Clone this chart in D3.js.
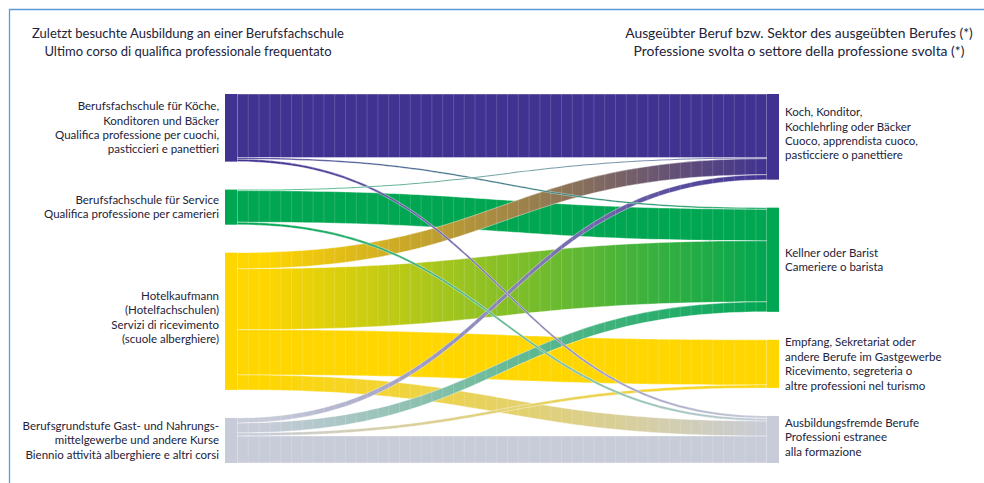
<!DOCTYPE html>
<html>
<head>
<meta charset="utf-8">
<script src="https://cdnjs.cloudflare.com/ajax/libs/d3/7.8.5/d3.min.js"></script>
<style>
  body { margin: 0; background: #fff; }
  text { font-family: Lato, "Noto Sans", sans-serif; fill: #23233a; }
</style>
</head>
<body>
<div id="chart"></div>
<script>
// left column: last school attended, right column: current job
const sourceLabels = [
  ['Berufsfachschule für Köche,', 'Konditoren und Bäcker', 'Qualifica professione per cuochi,', 'pasticcieri e panettieri'],
  ['Berufsfachschule für Service', 'Qualifica professione per camerieri'],
  ['Hotelkaufmann', '(Hotelfachschulen)', 'Servizi di ricevimento', '(scuole alberghiere)'],
  ['Berufsgrundstufe Gast- und Nahrungs-', 'mittelgewerbe und andere Kurse', 'Biennio attività alberghiere e altri corsi']
];
const targetLabels = [
  ['Koch, Konditor,', 'Kochlehrling oder Bäcker', 'Cuoco, apprendista cuoco,', 'pasticciere o panettiere'],
  ['Kellner oder Barist', 'Cameriere o barista'],
  ['Empfang, Sekretariat oder', 'andere Berufe im Gastgewerbe', 'Ricevimento, segreteria o', 'altre professioni nel turismo'],
  ['Ausbildungsfremde Berufe', 'Professioni estranee', 'alla formazione']
];
const leftTitle = ['Zuletzt besuchte Ausbildung an einer Berufsfachschule', 'Ultimo corso di qualifica professionale frequentato'];
const rightTitle = ['Ausgeübter Beruf bzw. Sektor des ausgeübten Berufes (*)', 'Professione svolta o settore della professione svolta (*)'];

// flows[source][target]
const fromKoeche  = [63.5, 1.5, 0, 2.5];
const fromService = [1, 31.5, 0, 2.5];
const fromHotel   = [16, 61, 45, 15];
const fromGrund   = [5, 10, 3, 27];
const flows = [fromKoeche, fromService, fromHotel, fromGrund];

const colors = ['#403291', '#00a651', '#ffd600', '#c8ccd9'];
const srcShift = [0, 0, -4, 0];
const tgtShift = [-3, 0, 0, -2];

const W = 984, H = 483;
const yTop = 94, yBottom = 463, pad = 28, nodeW = 12;
const xLeft = 225, xRight = 767;

const svg = d3.select('#chart').append('svg')
  .attr('width', W).attr('height', H);

// frame
svg.append('path')
  .attr('d', 'M9.5,' + H + 'V9.5H' + W)
  .attr('fill', 'none')
  .attr('stroke', '#5b9bd5')
  .attr('stroke-width', 1.3);

const total = d3.sum(flows.flat());
const k = d3.scaleLinear().domain([0, total]).range([0, (yBottom - yTop) - pad * 3]);

const srcTotals = flows.map(r => d3.sum(r));
const tgtTotals = targetLabels.map((_, j) => d3.sum(flows, r => r[j]));

function stack(totals) {
  let y = yTop;
  return totals.map(v => { const n = { y0: y, y1: y + k(v) }; y = n.y1 + pad; return n; });
}
const srcNodes = stack(srcTotals);
const tgtNodes = stack(tgtTotals);

// link geometry
const links = [];
const srcOff = srcNodes.map(n => n.y0);
const tgtOff = tgtNodes.map(n => n.y0);
flows.forEach((row, i) => row.forEach((v, j) => {
  if (!v) return;
  links.push({ s: i, t: j, v: v, sy0: srcOff[i], ty0: 0 });
  srcOff[i] += k(v);
}));
// target side ordered by source index
d3.range(4).forEach(j => {
  links.filter(l => l.t === j).sort((a, b) => a.s - b.s).forEach(l => {
    l.ty0 = tgtOff[j];
    tgtOff[j] += k(l.v);
  });
});

const defs = svg.append('defs');
links.forEach((l, idx) => {
  const g = defs.append('linearGradient')
    .attr('id', 'g' + idx)
    .attr('gradientUnits', 'userSpaceOnUse')
    .attr('x1', 265).attr('x2', xRight)
    .attr('y1', 0).attr('y2', 0);
  g.append('stop').attr('offset', '0%').attr('stop-color', colors[l.s]);
  g.append('stop').attr('offset', '100%').attr('stop-color', colors[l.t]);
});
// faint vertical strips like the original print
const pat = defs.append('pattern')
  .attr('id', 'strips')
  .attr('patternUnits', 'userSpaceOnUse')
  .attr('x', xLeft + nodeW).attr('y', 0)
  .attr('width', 10.8).attr('height', H);
pat.append('rect').attr('x', 0).attr('y', 0).attr('width', 0.7).attr('height', H)
  .attr('fill', '#fff').attr('fill-opacity', 0.22);

function ribbon(l) {
  const xa = xLeft + nodeW, xb = xRight, xm = (xa + xb) / 2;
  const h = k(l.v);
  const p = d3.path();
  p.moveTo(xa, l.sy0);
  p.bezierCurveTo(xm, l.sy0, xm, l.ty0, xb, l.ty0);
  p.lineTo(xb, l.ty0 + h);
  p.bezierCurveTo(xm, l.ty0 + h, xm, l.sy0 + h, xa, l.sy0 + h);
  p.closePath();
  return p.toString();
}

const order = links.map((l, i) => ({ l, i })).sort((a, b) => b.l.v - a.l.v);
const linkG = svg.append('g');
order.forEach(o => {
  linkG.append('path')
    .attr('d', ribbon(o.l))
    .attr('fill', 'url(#g' + o.i + ')')
    .attr('stroke', '#fff')
    .attr('stroke-width', 0.5)
    .attr('stroke-opacity', 0.8);
  linkG.append('path')
    .attr('d', ribbon(o.l))
    .attr('fill', 'url(#strips)');
});

// nodes
svg.append('g').selectAll('rect.src')
  .data(srcNodes).join('rect')
  .attr('x', xLeft).attr('y', d => d.y0)
  .attr('width', nodeW).attr('height', d => d.y1 - d.y0)
  .attr('fill', (d, i) => colors[i]);
svg.append('g').selectAll('rect.tgt')
  .data(tgtNodes).join('rect')
  .attr('x', xRight).attr('y', d => d.y0)
  .attr('width', nodeW).attr('height', d => d.y1 - d.y0)
  .attr('fill', (d, i) => colors[i]);

const lh = 14.4;
function label(lines, x, cy, anchor, size) {
  const t = svg.append('text')
    .attr('text-anchor', anchor)
    .style('font-size', size + 'px');
  lines.forEach((s, i) => {
    t.append('tspan')
      .attr('x', x)
      .attr('y', cy + (i - (lines.length - 1) / 2) * lh)
      .attr('dy', '0.35em')
      .text(s);
  });
}
sourceLabels.forEach((ls, i) => label(ls, xLeft - 6, (srcNodes[i].y0 + srcNodes[i].y1) / 2 + srcShift[i], 'end', 11.5));
targetLabels.forEach((ls, i) => label(ls, xRight + nodeW + 6, (tgtNodes[i].y0 + tgtNodes[i].y1) / 2 + tgtShift[i], 'start', 11.5));

function title(lines, x, size) {
  const t = svg.append('text').attr('text-anchor', 'middle').style('font-size', size + 'px');
  lines.forEach((s, i) => {
    t.append('tspan').attr('x', x).attr('y', 38 + i * 17.5).text(s);
  });
}
title(leftTitle, 188, 13);
title(rightTitle, 799, 13.9);
</script>
</body>
</html>
